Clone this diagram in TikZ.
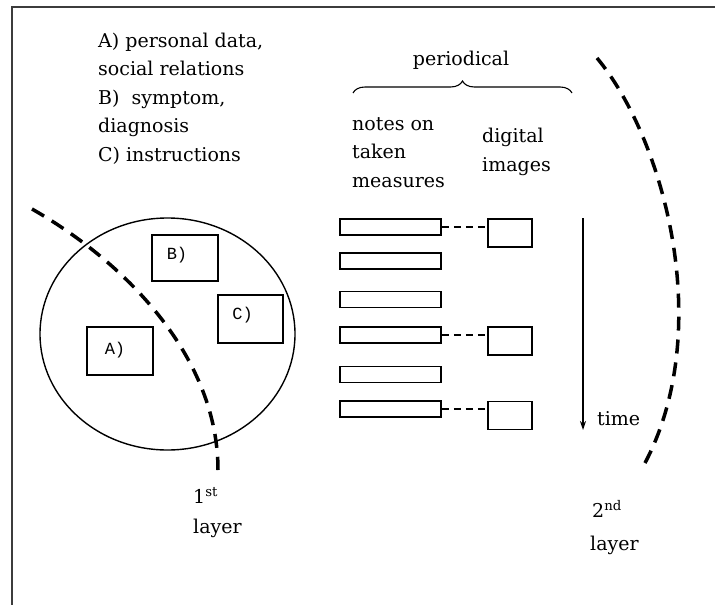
\documentclass[tikz,border=0pt]{standalone}
\usepackage{fontspec}
\setmainfont{DejaVu Serif}
\newfontfamily\boxfont{Liberation Mono}
\usetikzlibrary{decorations.pathreplacing,arrows.meta,shapes.geometric}
\definecolor{frame}{RGB}{60,60,60}
\tikzset{
  txt/.style={anchor=base west, inner sep=0pt, font=\fontsize{19}{23}\selectfont},
  ctxt/.style={anchor=base, inner sep=0pt, font=\fontsize{19}{23}\selectfont},
  infobox/.style={draw, line width=1.6pt, inner sep=0pt},
  boxlabel/.style={inner sep=0pt, font=\boxfont\fontsize{17}{20}\selectfont},
  notebox/.style={draw, line width=1.6pt, inner sep=0pt, minimum width=101pt, minimum height=16pt},
  imgbox/.style={draw, line width=1.6pt, inner sep=0pt, minimum width=44pt, minimum height=28pt},
  link/.style={line width=1.2pt, dash pattern=on 7pt off 5pt},
  layerline/.style={line width=3.5pt, dash pattern=on 14pt off 9pt},
}
\begin{document}
\begin{tikzpicture}[x=1pt,y=-1pt]
\useasboundingbox[fill=white] (0,0) rectangle (715,605);
% frame (top and left)
\coordinate (fr1) at (715,7);
\coordinate (fr2) at (12,7);
\coordinate (fr3) at (12,605);
\draw[frame, line width=2.6pt] (fr1) -- (fr2) -- (fr3);

% legend
\node[txt] (l1) at (98,47) {A) personal data,};
\node[txt] (l2) at (98,75.5) {social relations};
\node[txt] (l3) at (98,104) {B)\ \ symptom,};
\node[txt] (l4) at (98,132.5) {diagnosis};
\node[txt] (l5) at (98,161) {C) instructions};

% first layer: ellipse with boxes
\node[draw, ellipse, line width=1.4pt, minimum width=255pt, minimum height=232pt, inner sep=0pt] (ell) at (167.5,334) {};
\node[infobox, minimum width=66pt, minimum height=46pt] (B) at (185,258) {};
\node[infobox, minimum width=65pt, minimum height=48pt] (C) at (250.5,319) {};
\node[infobox, minimum width=66pt, minimum height=48pt] (A) at (120,351) {};
\node[boxlabel] (Bl) at ([shift={(-8,-3)}]B.center) {B)};
\node[boxlabel] (Cl) at ([shift={(-8,-4)}]C.center) {C)};
\node[boxlabel] (Al) at ([shift={(-5,-1)}]A.center) {A)};

% first layer boundary
\coordinate (d1s) at (32,209);
\coordinate (d1e) at (218,470);
\draw[layerline] (d1s) .. controls (130,265) and (218,360) .. (d1e);
\node[txt] (first) at (193,503) {1\textsuperscript{st}};
\node[txt] (firstl) at (193,533) {layer};

% periodical
\node[ctxt] (per) at (461,65) {periodical};
\coordinate (brl) at (353,93);
\coordinate (brr) at (572,93);
\draw[line width=1.1pt, decorate, decoration={brace, amplitude=12pt}] (brl) -- (brr);

\node[txt] (n1) at (352,130) {notes on};
\node[txt] (n2) at (352,158.5) {taken};
\node[txt] (n3) at (352,187) {measures};
\node[txt] (g1) at (482,142) {digital};
\node[txt] (g2) at (482,171) {images};

% note boxes
\node[notebox] (N1) at (390.5,227) {};
\node[notebox] (N2) at (390.5,261) {};
\node[notebox] (N3) at (390.5,299.5) {};
\node[notebox] (N4) at (390.5,335) {};
\node[notebox] (N5) at (390.5,374.5) {};
\node[notebox] (N6) at (390.5,409) {};
% image boxes
\node[imgbox] (I1) at (510,233) {};
\node[imgbox] (I2) at (510,341) {};
\node[imgbox] (I3) at (510,415.5) {};
\draw[link] (N1.east) -- (N1.east -| I1.west);
\draw[link] (N4.east) -- (N4.east -| I2.west);
\draw[link] (N6.east) -- (N6.east -| I3.west);

% time arrow
\coordinate (ts) at (583,218);
\coordinate (te) at (583,430);
\draw[line width=1.3pt, -{Stealth[length=9pt,width=6pt]}] (ts) -- (te);
\node[txt] (time) at (597,425) {time};

% second layer boundary
\coordinate (d2s) at (597,58);
\coordinate (d2e) at (645,463);
\draw[layerline] (d2s) .. controls (665,140) and (715,330) .. (d2e);
\node[txt] (second) at (592,517) {2\textsuperscript{nd}};
\node[txt] (secondl) at (590,550) {layer};
\end{tikzpicture}
\end{document}
